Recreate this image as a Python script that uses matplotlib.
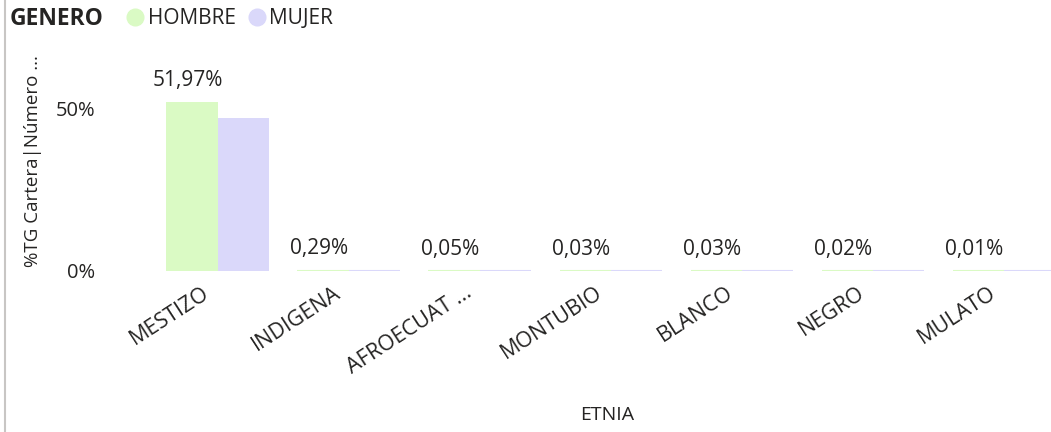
import numpy as np
import matplotlib.pyplot as plt
from matplotlib.lines import Line2D

plt.rcParams['font.family'] = ['Open Sans', 'DejaVu Sans']

# Data
etnias = ['MESTIZO', 'INDIGENA', 'AFROECUAT ...', 'MONTUBIO', 'BLANCO', 'NEGRO', 'MULATO']
hombre = [51.97, 0.29, 0.05, 0.03, 0.03, 0.02, 0.01]
mujer = [46.95, 0.24, 0.04, 0.03, 0.02, 0.02, 0.01]
hombre_labels = ['51,97%', '0,29%', '0,05%', '0,03%', '0,03%', '0,02%', '0,01%']

c_hombre = '#DAFAC4'
c_mujer = '#DAD8FA'
txt = '#252423'

fig = plt.figure(figsize=(10.51, 4.32), dpi=100)
ax = fig.add_axes([0.1446, 0.3727, 0.8554, 0.488])

x = np.arange(len(etnias))
w = 0.39
ax.bar(x - w / 2, hombre, w, color=c_hombre)
ax.bar(x + w / 2, mujer, w, color=c_mujer)

# thin baseline lines so the tiny bars are visible like in the original
for xi in x:
    ax.plot([xi - w, xi], [0, 0], color=c_hombre, lw=1.5, solid_capstyle='butt')
    ax.plot([xi, xi + w], [0, 0], color=c_mujer, lw=1.5, solid_capstyle='butt')

for xi, v, lab in zip(x, hombre, hombre_labels):
    ax.annotate(lab, (xi - w / 2, v), xytext=(-3, 8), textcoords='offset points',
                ha='center', va='bottom', fontsize=15, color=txt)

ax.set_xlim(-0.5, 6.36)
ax.set_ylim(0, 64.7)
ax.set_yticks([0, 50])
ax.set_yticklabels(['0%', '50%'], fontsize=14.5, color=txt)
# tick labels sit a little left of the group centre (ticks are hidden)
ax.set_xticks(x - 0.12)
ax.set_xticklabels(etnias, rotation=33, ha='right', rotation_mode='anchor',
                   fontsize=15.5, color=txt)
ax.tick_params(length=0)
ax.tick_params(axis='x', pad=8)
ax.tick_params(axis='y', pad=41)
for s in ax.spines.values():
    s.set_visible(False)

ax.set_ylabel('%TG Cartera|Número ...', fontsize=13.5, color=txt)
ax.yaxis.set_label_coords(-0.122, 0.52)
fig.text(0.578, 0.04, 'ETNIA', ha='center', va='center', fontsize=14, color=txt)

# legend
fig.text(0.009, 0.955, 'GENERO', ha='left', va='center', fontsize=16.5, fontweight='bold', color=txt)
handles = [Line2D([], [], marker='o', ls='', ms=12, color=c_hombre),
           Line2D([], [], marker='o', ls='', ms=12, color=c_mujer)]
fig.legend(handles, ['HOMBRE', 'MUJER'], loc='center left', bbox_to_anchor=(0.108, 0.957),
           ncol=2, frameon=False, fontsize=15, handletextpad=0.05, columnspacing=0.45,
           handlelength=1.1, borderpad=0, labelcolor=txt)

# left border line
fig.add_artist(Line2D([0.0045, 0.0045], [0, 1], color='#C8C6C4', lw=1.5))

fig.savefig('out.png', dpi=100)
